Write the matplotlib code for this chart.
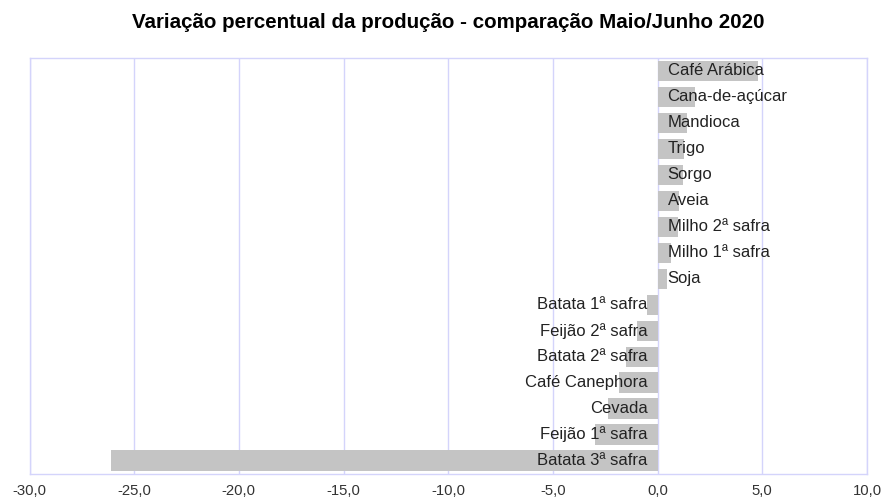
import matplotlib.pyplot as plt

plt.rcParams['font.family'] = ['Liberation Sans', 'DejaVu Sans']

# === DATA (variação % Maio/Junho 2020) ===
produtos = ["Café Arábica", "Cana-de-açúcar", "Mandioca", "Trigo", "Sorgo", "Aveia",
            "Milho 2ª safra", "Milho 1ª safra", "Soja", "Batata 1ª safra",
            "Feijão 2ª safra", "Batata 2ª safra", "Café Canephora", "Cevada",
            "Feijão 1ª safra", "Batata 3ª safra"]
variacao = [4.8, 1.8, 1.4, 1.27, 1.2, 1.04, 0.95, 0.63, 0.44, -0.5,
            -1.0, -1.5, -1.83, -2.37, -2.98, -26.1]
xticks = [-30, -25, -20, -15, -10, -5, 0, 5, 10]
xtick_labels = [f"{v:.1f}".replace(".", ",") for v in xticks]

grid_col = "#d4d4fb"

fig = plt.figure(figsize=(8.85, 5.0), dpi=100)
ax = fig.add_axes([29.5 / 885, 1 - 473.5 / 500, (867 - 29.5) / 885, (473.5 - 58) / 500])

ypos = list(range(len(produtos)))
ax.barh(ypos, variacao, height=0.78, color="#c4c4c4", zorder=2)

# labels next to the zero line
for y, v, nome in zip(ypos, variacao, produtos):
    if v >= 0:
        ax.annotate(nome, (0, y), xytext=(7.2, 0), textcoords="offset points",
                    ha="left", va="center", fontsize=12, color="#222222", zorder=3)
    else:
        ax.annotate(nome, (0, y), xytext=(-7.2, 0), textcoords="offset points",
                    ha="right", va="center", fontsize=12, color="#222222", zorder=3)

ax.set_xlim(-30, 10)
ax.set_ylim(len(produtos) - 0.5, -0.5)
ax.set_xticks(xticks)
ax.set_xticklabels(xtick_labels, fontsize=10.7, color="#333333")
ax.set_yticks([])
ax.tick_params(axis="x", length=0, pad=7.5)
ax.grid(axis="x", color=grid_col, linewidth=1, zorder=1)
for s in ax.spines.values():
    s.set_color(grid_col)
    s.set_linewidth(1)

fig.suptitle("Variação percentual da produção - comparação Maio/Junho 2020",
             fontsize=14.8, fontweight="bold", x=448 / 885, y=1 - 22 / 500, va="center")

plt.savefig("out.png", dpi=100)
plt.close()
